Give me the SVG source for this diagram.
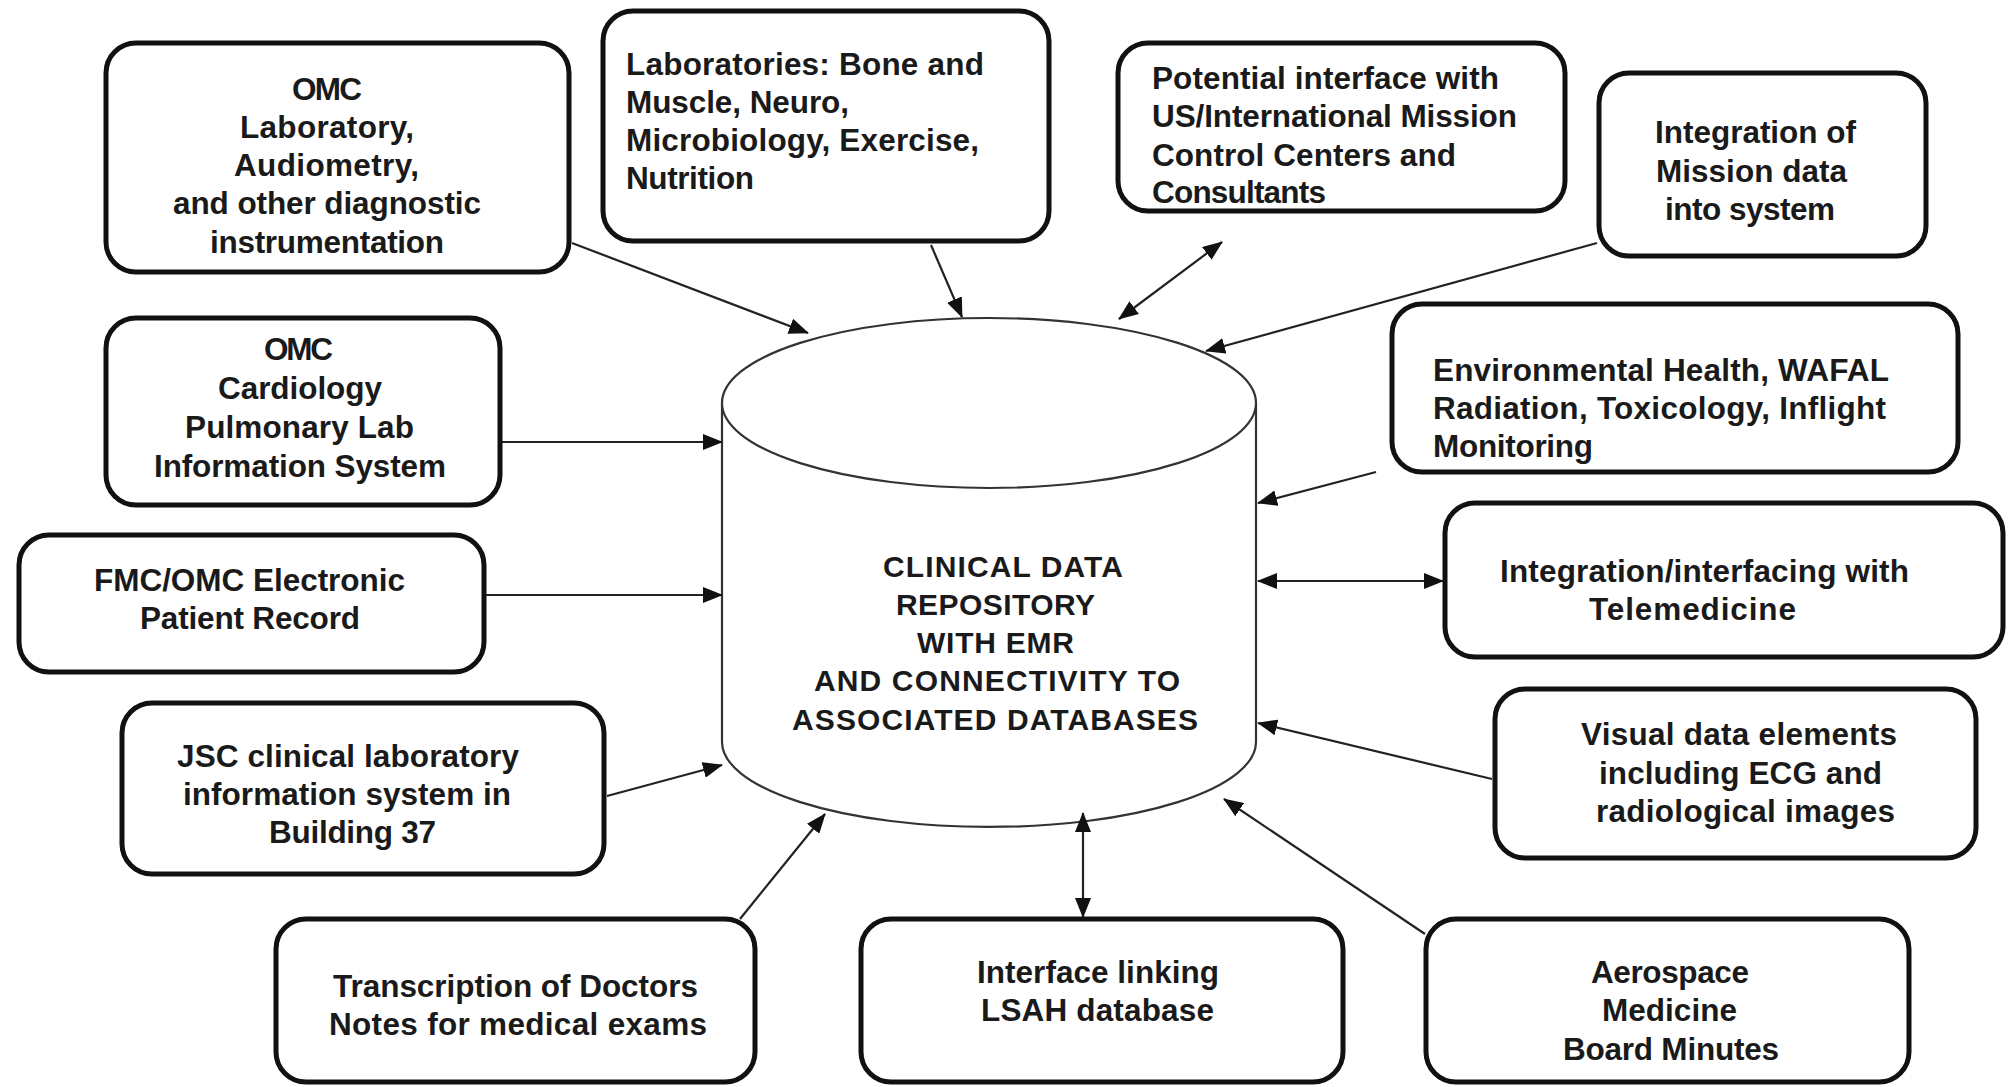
<svg xmlns="http://www.w3.org/2000/svg" width="2008" height="1087" viewBox="0 0 2008 1087">
<style>
.box{fill:#fff;stroke:#111;stroke-width:5}
.t{font-family:"Liberation Sans",Arial,sans-serif;font-weight:bold;font-size:31.5px;fill:#1a1a1a}
.ct{font-family:"Liberation Sans",Arial,sans-serif;font-weight:bold;font-size:30px;fill:#1a1a1a}
.cyl{fill:#fff;stroke:#333;stroke-width:2.2}
.c{fill:none;stroke:#222;stroke-width:2.2}
.a{marker-end:url(#ah)}
.aa{marker-start:url(#ah);marker-end:url(#ah)}
</style>
<defs>
<marker id="ah" viewBox="0 0 20 16" refX="19" refY="8" markerWidth="20" markerHeight="16" markerUnits="userSpaceOnUse" orient="auto-start-reverse">
<path d="M0,0 L20,8 L0,16 Z" fill="#111"/>
</marker>
</defs>
<rect width="2008" height="1087" fill="#fff"/>

<g id="repository">
<path class="cyl" d="M722,403 L722,742 A267,85 0 0 0 1256,742 L1256,403"/>
<ellipse class="cyl" cx="989" cy="403" rx="267" ry="85"/>
<text class="ct" x="883" y="577" textLength="240">CLINICAL DATA</text>
<text class="ct" x="896" y="615" textLength="199">REPOSITORY</text>
<text class="ct" x="917" y="653" textLength="157">WITH EMR</text>
<text class="ct" x="814" y="691" textLength="366">AND CONNECTIVITY TO</text>
<text class="ct" x="792" y="730" textLength="406">ASSOCIATED DATABASES</text>
</g>

<g id="connectors">
<line class="c a" x1="572" y1="243" x2="808" y2="333"/>
<line class="c a" x1="931" y1="245" x2="962" y2="317"/>
<line class="c aa" x1="1222" y1="242" x2="1119" y2="319"/>
<line class="c a" x1="1597" y1="243" x2="1206" y2="351"/>
<line class="c a" x1="1376" y1="472" x2="1258" y2="503"/>
<line class="c aa" x1="1258" y1="581" x2="1443" y2="581"/>
<line class="c a" x1="1492" y1="779" x2="1258" y2="723"/>
<line class="c a" x1="1425" y1="934" x2="1224" y2="799"/>
<line class="c aa" x1="1083" y1="813" x2="1083" y2="917"/>
<line class="c a" x1="740" y1="919" x2="825" y2="814"/>
<line class="c a" x1="607" y1="796" x2="722" y2="765"/>
<line class="c a" x1="485" y1="595" x2="722" y2="595"/>
<line class="c a" x1="501" y1="442" x2="722" y2="442"/>
</g>

<g id="omc-lab">
<rect class="box" x="106" y="43" width="463" height="229" rx="30"/>
<text class="t" x="292" y="100" textLength="70">OMC</text>
<text class="t" x="240" y="138" textLength="174">Laboratory,</text>
<text class="t" x="234" y="176" textLength="185">Audiometry,</text>
<text class="t" x="173" y="214" textLength="308">and other diagnostic</text>
<text class="t" x="210" y="253" textLength="234">instrumentation</text>
</g>

<g id="laboratories">
<rect class="box" x="603" y="11" width="446" height="230" rx="30"/>
<text class="t" x="626" y="75" textLength="358">Laboratories: Bone and</text>
<text class="t" x="626" y="113" textLength="223">Muscle, Neuro,</text>
<text class="t" x="626" y="151" textLength="353">Microbiology, Exercise,</text>
<text class="t" x="626" y="189" textLength="128">Nutrition</text>
</g>

<g id="mission-control">
<rect class="box" x="1118" y="43" width="447" height="168" rx="30"/>
<text class="t" x="1152" y="89" textLength="347">Potential interface with</text>
<text class="t" x="1152" y="127" textLength="365">US/International Mission</text>
<text class="t" x="1152" y="166" textLength="304">Control Centers and</text>
<text class="t" x="1152" y="203" textLength="174">Consultants</text>
</g>

<g id="mission-data">
<rect class="box" x="1599" y="73" width="327" height="183" rx="30"/>
<text class="t" x="1655" y="143" textLength="201">Integration of</text>
<text class="t" x="1656" y="182" textLength="191">Mission data</text>
<text class="t" x="1665" y="220" textLength="170">into system</text>
</g>

<g id="environmental">
<rect class="box" x="1392" y="304" width="566" height="168" rx="30"/>
<text class="t" x="1433" y="381" textLength="456">Environmental Health, WAFAL</text>
<text class="t" x="1433" y="419" textLength="453">Radiation, Toxicology, Inflight</text>
<text class="t" x="1433" y="457" textLength="160">Monitoring</text>
</g>

<g id="telemedicine">
<rect class="box" x="1445" y="503" width="558" height="154" rx="30"/>
<text class="t" x="1500" y="582" textLength="409">Integration/interfacing with</text>
<text class="t" x="1589" y="620" textLength="207">Telemedicine</text>
</g>

<g id="visual-data">
<rect class="box" x="1495" y="689" width="481" height="169" rx="30"/>
<text class="t" x="1581" y="745" textLength="316">Visual data elements</text>
<text class="t" x="1599" y="784" textLength="283">including ECG and</text>
<text class="t" x="1596" y="822" textLength="299">radiological images</text>
</g>

<g id="aerospace">
<rect class="box" x="1426" y="919" width="483" height="163" rx="30"/>
<text class="t" x="1591" y="983" textLength="158">Aerospace</text>
<text class="t" x="1602" y="1021" textLength="135">Medicine</text>
<text class="t" x="1563" y="1060" textLength="216">Board Minutes</text>
</g>

<g id="lsah">
<rect class="box" x="861" y="919" width="482" height="163" rx="30"/>
<text class="t" x="977" y="983" textLength="242">Interface linking</text>
<text class="t" x="981" y="1021" textLength="233">LSAH database</text>
</g>

<g id="transcription">
<rect class="box" x="276" y="919" width="479" height="163" rx="30"/>
<text class="t" x="333" y="997" textLength="365">Transcription of Doctors</text>
<text class="t" x="329" y="1035" textLength="378">Notes for medical exams</text>
</g>

<g id="jsc-lab">
<rect class="box" x="122" y="703" width="482" height="171" rx="30"/>
<text class="t" x="177" y="767" textLength="342">JSC clinical laboratory</text>
<text class="t" x="183" y="805" textLength="328">information system in</text>
<text class="t" x="269" y="843" textLength="167">Building 37</text>
</g>

<g id="fmc-omc">
<rect class="box" x="19" y="535" width="465" height="137" rx="30"/>
<text class="t" x="94" y="591" textLength="311">FMC/OMC Electronic</text>
<text class="t" x="140" y="629" textLength="220">Patient Record</text>
</g>

<g id="omc-cardiology">
<rect class="box" x="106" y="318" width="394" height="187" rx="30"/>
<text class="t" x="264" y="360" textLength="69">OMC</text>
<text class="t" x="218" y="399" textLength="164">Cardiology</text>
<text class="t" x="185" y="438" textLength="229">Pulmonary Lab</text>
<text class="t" x="154" y="477" textLength="292">Information System</text>
</g>
</svg>
